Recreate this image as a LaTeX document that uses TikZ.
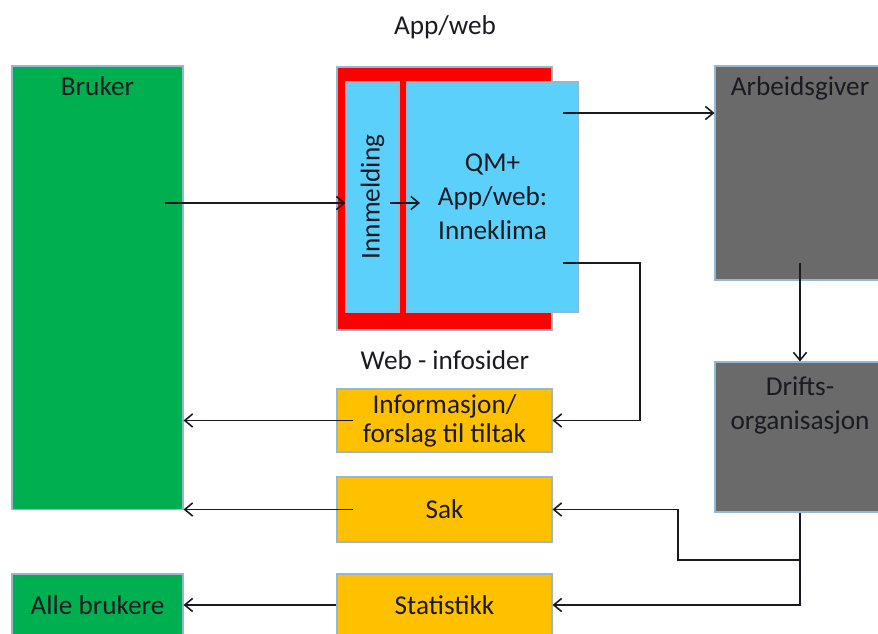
\documentclass[tikz,border=0pt]{standalone}
\usepackage{fontspec}
\setmainfont{Carlito}
\definecolor{qmGreen}{HTML}{00B050}
\definecolor{qmRed}{HTML}{FF0000}
\definecolor{qmSky}{HTML}{5BD0FA}
\definecolor{qmAmber}{HTML}{FFC000}
\definecolor{qmGrey}{HTML}{6A6A6A}
\definecolor{qmEdge}{HTML}{95B8D0}
\definecolor{qmInk}{HTML}{1A1A22}
\usetikzlibrary{calc,positioning,arrows.meta}

\tikzset{
  box/.style={draw=qmEdge, line width=0.6pt, rectangle, inner sep=0pt, text=qmInk, align=center},
  arr/.style={draw=qmInk, line width=0.9pt, -{Straight Barb[length=4.5pt,width=7.5pt]}},
  toplabel/.style={anchor=north, yshift=-0.03cm, text=qmInk, align=center}
}

\begin{document}
\begin{tikzpicture}
  \fontsize{15.5}{19.5}\selectfont
  \useasboundingbox (0,0) rectangle (17.56,12.68);

  \node[box, fill=qmGreen, minimum width=3.42cm, minimum height=8.87cm,
        label={[toplabel]north:Bruker}] (bruker) at (1.95,6.925) {};
  \node[box, fill=qmGreen, minimum width=3.42cm, minimum height=1.24cm] (allebrukere) at (1.95,0.58) {Alle brukere};

  \node[text=qmInk] (titleApp) at (8.9,12.14) {App/web};
  \node[box, fill=qmRed, minimum width=4.3cm, minimum height=5.26cm] (appweb) at (8.89,8.71) {};
  \node[box, fill=qmSky, minimum width=1.06cm, minimum height=4.6cm] (innmelding) at (7.45,8.74) {};
  \node[rotate=90, text=qmInk] at (innmelding) {Innmelding};
  \node[box, fill=qmSky, minimum width=3.42cm, minimum height=4.6cm] (qm) at (9.85,8.74) {QM+\\App/web:\\Inneklima};

  \node[box, fill=qmGrey, minimum width=3.4cm, minimum height=4.28cm,
        label={[toplabel]north:Arbeidsgiver}] (arbeidsgiver) at (16.0,9.22) {};
  \node[box, fill=qmGrey, minimum width=3.4cm, minimum height=3.0cm,
        label={[toplabel, yshift=-0.08cm]north:Drifts-\\organisasjon}] (drifts) at (16.0,3.94) {};

  \node[text=qmInk] (titleWeb) at (8.9,5.48) {Web - infosider};
  \node[box, fill=qmAmber, minimum width=4.3cm, minimum height=1.26cm,
        font=\fontsize{15.5}{16.5}\selectfont] (info) at (8.89,4.27) {Informasjon/\\forslag til tiltak};
  \node[box, fill=qmAmber, minimum width=4.3cm, minimum height=1.3cm] (sak) at (8.89,2.49) {Sak};
  \node[box, fill=qmAmber, minimum width=4.3cm, minimum height=1.24cm] (statistikk) at (8.89,0.58) {Statistikk};

  \coordinate (brukerOut) at (3.3,8.62);
  \coordinate (innOut) at (7.8,8.62);
  \coordinate (qmIn) at (8.4,8.62);
  \coordinate (qmOutTop) at (11.26,10.42);
  \coordinate (qmOutLow) at (11.26,7.42);
  \coordinate (agOut) at (16.0,7.42);
  \coordinate (split) at (16.0,1.48);

  \draw[arr] (brukerOut) -- (brukerOut -| innmelding.west);
  \draw[arr] (innOut) -- (qmIn);
  \draw[arr] (qmOutTop) -- (qmOutTop -| arbeidsgiver.west);
  \draw[arr] (qmOutLow) -- ++(1.54,0) |- (info.east);
  \draw[arr] (agOut) -- (drifts.north);
  \draw[arr] (drifts.south) |- (statistikk.east);
  \draw[arr] (split) -- ++(-2.44,0) |- (sak.east);
  \draw[arr] ($(info.west)+(0.34,0)$) -- (info.west -| bruker.east);
  \draw[arr] ($(sak.west)+(0.34,0)$) -- (sak.west -| bruker.east);
  \draw[arr] (statistikk.west) -- (allebrukere.east);
\end{tikzpicture}
\end{document}
